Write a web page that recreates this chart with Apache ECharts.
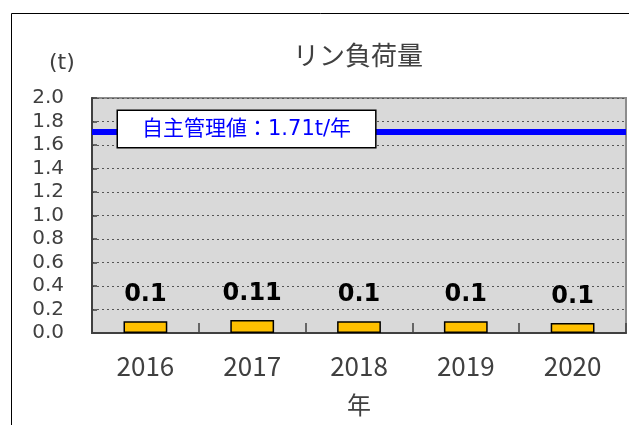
<!DOCTYPE html>
<html>
<head>
<meta charset="utf-8">
<script src="https://cdn.jsdelivr.net/npm/echarts@6/dist/echarts.min.js"></script>
<style>
html,body{margin:0;padding:0;background:#fff;}
#c{width:629px;height:425px;}
</style>
</head>
<body>
<div id="c"></div>
<script>
const titleText = 'リン負荷量';
const unitText = '(t)';
const xAxisName = '年';
const categories = ['2016', '2017', '2018', '2019', '2020'];
const values = [0.1, 0.11, 0.1, 0.1, 0.085];
const valueLabels = ['0.1', '0.11', '0.1', '0.1', '0.1'];
const limitValue = 1.71;
const limitLabel = '自主管理値：1.71t/年';
const yMin = 0, yMax = 2.0, yInterval = 0.2;

const CJK = '"Noto Sans CJK JP", "Noto Sans", sans-serif';
const LAT = '"DejaVu Sans", "Noto Sans CJK JP", sans-serif';
const chart = echarts.init(document.getElementById('c'), null, {renderer: 'canvas'});
chart.setOption({
  animation: false,
  backgroundColor: '#ffffff',
  textStyle: {fontFamily: CJK},
  graphic: [{
    type: 'rect', z: -10, silent: true,
    shape: {x: 11.5, y: 13.5, width: 800, height: 600},
    style: {fill: 'none', stroke: '#000', lineWidth: 1}
  }],
  title: [{
    text: titleText, left: 293, top: 42, padding: 0,
    textStyle: {fontFamily: CJK, fontSize: 26, fontWeight: 'normal', color: '#404040'}
  }, {
    text: unitText, left: 49, top: 52, padding: 0,
    textStyle: {fontFamily: LAT, fontSize: 22, fontWeight: 'normal', color: '#404040'}
  }],
  grid: {
    left: 92, top: 98, right: 3, bottom: 92,
    show: true, backgroundColor: '#d9d9d9', borderColor: '#8c8c8c', borderWidth: 2
  },
  xAxis: {
    type: 'category', data: categories,
    name: xAxisName, nameLocation: 'middle', nameGap: 60,
    nameTextStyle: {fontFamily: CJK, fontSize: 24, color: '#404040'},
    axisLine: {lineStyle: {color: '#404040', width: 2}},
    axisTick: {show: true, inside: true, length: 10, lineStyle: {color: '#404040', width: 1.5}},
    axisLabel: {fontFamily: CJK, fontSize: 26, color: '#404040', margin: 20}
  },
  yAxis: {
    type: 'value', min: yMin, max: yMax, interval: yInterval,
    axisLine: {show: true, lineStyle: {color: '#404040', width: 2}},
    axisTick: {show: true, inside: true, length: 5, lineStyle: {color: '#404040', width: 1.5}},
    axisLabel: {fontFamily: LAT, fontSize: 20, color: '#404040', margin: 28,
      formatter: v => v.toFixed(1)},
    splitLine: {show: true, lineStyle: {color: '#555555', width: 1, type: [2, 3]}}
  },
  series: [{
    type: 'bar', data: values, barWidth: '41%',
    itemStyle: {color: '#ffc000', borderColor: '#000', borderWidth: 1.5},
    label: {
      show: true, position: 'top', distance: 14,
      fontFamily: LAT, fontSize: 24, fontWeight: 'bold', color: '#000',
      formatter: p => valueLabels[p.dataIndex]
    },
    markLine: {
      silent: true, symbol: 'none',
      lineStyle: {color: '#0000ff', width: 6, type: 'solid'},
      label: {
        show: true, position: 'insideStartTop', distance: 0,
        offset: [26, 15],
        formatter: limitLabel,
        fontFamily: LAT, fontSize: 21, color: '#0000ff',
        backgroundColor: '#fff', borderColor: '#000', borderWidth: 1.5,
        padding: [8, 24, 7, 24]
      },
      data: [{yAxis: limitValue}]
    }
  }]
});
</script>
</body>
</html>
